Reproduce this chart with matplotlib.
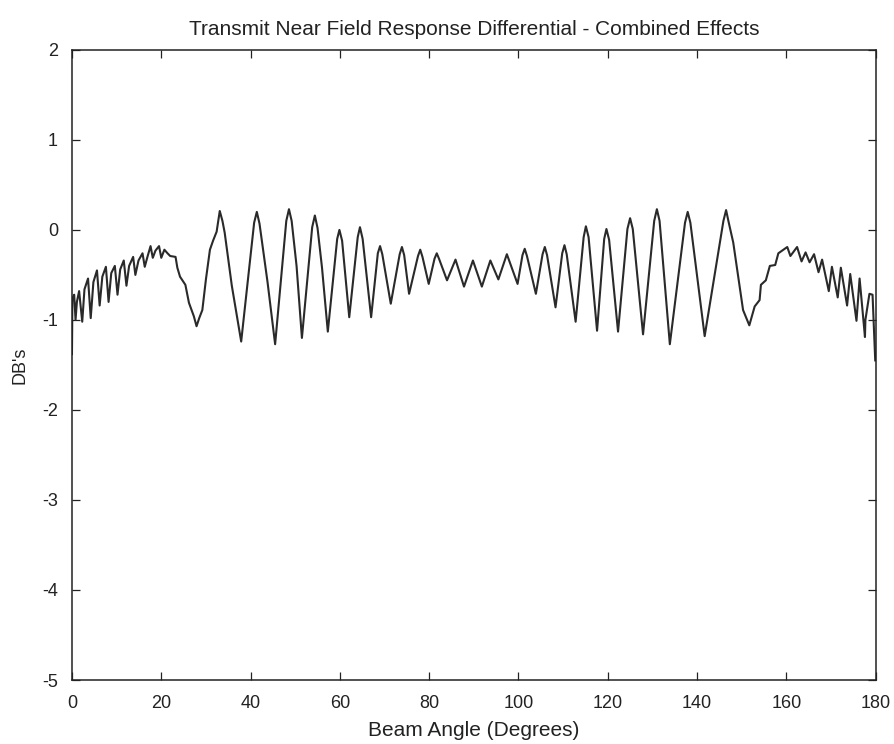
"""Transmit near field response differential plot (combined effects)."""

import matplotlib
matplotlib.use("Agg")  # no screen needed
import matplotlib.pyplot as plt

# Curve vertices (beam angle in degrees, response in dB)
beam_angle = [
    0.0, 0.1, 0.5, 0.8, 1.1, 1.6, 2.3, 2.8, 3.6, 4.2, 4.8, 5.6, 6.2, 6.8,
    7.6, 8.2, 8.8, 9.6, 10.2, 10.8, 11.6, 12.2, 12.8, 13.7, 14.2, 14.9,
    15.8, 16.3, 16.9, 17.6, 18.1, 18.7, 19.5, 20.0, 20.7, 21.4, 22.0, 23.2,
    23.6, 24.2, 25.4, 26.2, 27.3, 27.9, 28.5, 29.2, 30.0, 30.9, 31.6, 32.4,
    33.1, 33.7, 34.2, 35.8, 37.9,
    40.8, 41.4, 42.0, 43.8, 45.5,
    48.0, 48.6, 49.2, 50.3, 51.5,
    53.8, 54.4, 55.0, 56.0, 57.3,
    59.4, 59.9, 60.5, 62.1,
    64.0, 64.5, 65.1, 67.0,
    68.5, 69.0, 69.5, 71.4, 73.4, 73.9, 74.4, 75.5, 77.5, 78.0, 78.5, 79.9,
    81.2, 81.7, 82.2, 84.0, 85.9, 87.8, 89.8,
    91.8, 93.7, 95.5, 97.4, 99.8, 100.9, 101.4, 101.9, 103.9,
    105.4, 105.9, 106.4, 108.3, 109.8, 110.3, 110.8,
    112.8, 114.6, 115.1, 115.7, 117.6,
    119.2, 119.7, 120.3, 122.3,
    124.4, 125.0, 125.6, 127.9,
    130.4, 131.0, 131.6, 133.9,
    137.3, 137.9, 138.5, 141.7,
    145.9, 146.5, 147.1, 148.1, 150.3, 151.7,
    152.9, 154.0, 154.3, 155.4, 156.3, 157.5, 158.2, 160.2, 160.9, 162.4,
    163.4, 164.3, 165.2, 166.2, 167.2, 168.0, 169.5, 170.2, 171.5, 172.2,
    173.6, 174.3, 175.7, 176.4, 177.6, 177.7, 178.6, 179.3, 179.9,
]
response_db = [
    -1.38, -0.76, -0.72, -1.00, -0.80, -0.68, -1.02, -0.66, -0.54, -0.98,
    -0.58, -0.45, -0.84, -0.52, -0.41, -0.80, -0.48, -0.40, -0.72, -0.44,
    -0.34, -0.62, -0.40, -0.30, -0.50, -0.34, -0.26, -0.41, -0.30, -0.18,
    -0.31, -0.23, -0.18, -0.31, -0.22, -0.26, -0.29, -0.30, -0.42, -0.52,
    -0.61, -0.81, -0.96, -1.07, -0.98, -0.89, -0.55, -0.22, -0.12, -0.02,
    0.21, 0.10, -0.03, -0.62, -1.24,
    0.08, 0.20, 0.07, -0.58, -1.27,
    0.10, 0.23, 0.10, -0.40, -1.20,
    0.03, 0.16, 0.02, -0.42, -1.13,
    -0.10, 0.00, -0.12, -0.97,
    -0.08, 0.03, -0.10, -0.97,
    -0.26, -0.18, -0.27, -0.82, -0.27, -0.19, -0.28, -0.71, -0.29, -0.22, -0.30,
    -0.60,
    -0.32, -0.26, -0.32, -0.56, -0.33, -0.63, -0.34,
    -0.63, -0.34, -0.55, -0.27, -0.60, -0.28, -0.21, -0.29, -0.71,
    -0.27, -0.19, -0.28, -0.86, -0.26, -0.17, -0.27,
    -1.02, -0.08, 0.04, -0.08, -1.12,
    -0.10, 0.01, -0.11, -1.13,
    0.01, 0.13, 0.01, -1.16,
    0.10, 0.23, 0.10, -1.27,
    0.08, 0.20, 0.08, -1.18,
    0.10, 0.22, 0.08, -0.14, -0.89, -1.06,
    -0.85, -0.78, -0.61, -0.56, -0.40, -0.39, -0.26, -0.19, -0.29, -0.19,
    -0.35, -0.25, -0.36, -0.27, -0.47, -0.33, -0.68, -0.41, -0.75, -0.42,
    -0.84, -0.49, -1.01, -0.54, -1.19, -1.00, -0.71, -0.72, -1.45,
]

x_ticks = [0, 20, 40, 60, 80, 100, 120, 140, 160, 180]
y_ticks = [-5, -4, -3, -2, -1, 0, 1, 2]

plt.rcParams["font.family"] = ["Liberation Sans", "DejaVu Sans"]
plt.rcParams["axes.unicode_minus"] = False  # plain hyphen like the original

fig = plt.figure(figsize=(8.94, 7.44), dpi=100)
ax = fig.add_axes([0.0805, 0.086, 0.899, 0.847])

ax.plot(beam_angle, response_db, color="#2a2a2a", linewidth=1.5)

ax.set_xlim(0, 180)
ax.set_ylim(-5, 2)
ax.set_xticks(x_ticks)
ax.set_yticks(y_ticks)

# MATLAB-style box: inward ticks on every side
ax.tick_params(direction="in", length=6, width=0.9, top=True, right=True,
               labelsize=13, colors="#222222")
ax.tick_params(axis="x", pad=11)
ax.tick_params(axis="y", pad=10)
for spine in ax.spines.values():
    spine.set_linewidth(1.1)
    spine.set_color("#222222")

ax.set_title("Transmit Near Field Response Differential - Combined Effects",
             fontsize=15, pad=11, color="#222222")
ax.set_xlabel("Beam Angle (Degrees)", fontsize=15, labelpad=6, color="#222222")
ax.set_ylabel("DB's", fontsize=13, labelpad=10, color="#222222")

plt.savefig("out.png", dpi=100)
plt.close()
